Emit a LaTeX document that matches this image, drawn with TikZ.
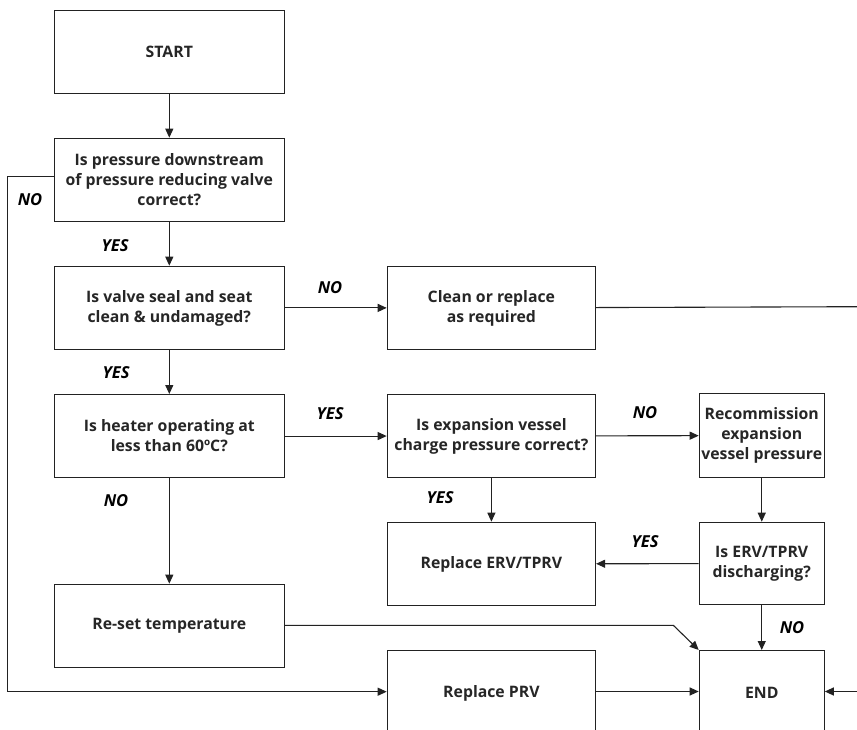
\documentclass[tikz,border=0pt]{standalone}
\usepackage{fontspec}
\setmainfont{Open Sans}
\usetikzlibrary{arrows.meta}
\definecolor{ink}{HTML}{222222}
\tikzset{
  x=1pt, y=-1pt,
  box/.style={draw=ink, line width=1.1pt, anchor=north west, align=center,
    inner sep=2pt, text=black!85, font=\bfseries\fontsize{15.8}{20}\selectfont},
  conn/.style={draw=ink, line width=1.1pt},
  arr/.style={conn, -{Triangle[length=9pt,width=8pt]}},
  lab/.style={font=\bfseries\itshape\fontsize{16.5}{18}\selectfont, inner sep=0pt}
}
\begin{document}
\begin{tikzpicture}
\useasboundingbox (0,0) rectangle (857,730);
\clip (0,0) rectangle (857,730);
% boxes
\node[box, minimum width=229.5pt, minimum height=82.7pt] (start) at (54,10) {START};
\node[box, minimum width=229.5pt, minimum height=83pt] (q1) at (54,137.7) {Is pressure downstream\\of pressure reducing valve\\correct?};
\node[box, minimum width=229.5pt, minimum height=83.3pt] (q2) at (54,265.7) {Is valve seal and seat\\clean \& undamaged?};
\node[box, minimum width=229.5pt, minimum height=83pt] (q3) at (54,394) {Is heater operating at\\less than 60ºC?};
\node[box, minimum width=229.5pt, minimum height=83.3pt] (reset) at (54,583.7) {Re-set temperature};
\node[box, minimum width=208.3pt, minimum height=83.3pt] (clean) at (386.7,265.7) {Clean or replace\\as required};
\node[box, minimum width=208.3pt, minimum height=83pt] (exp) at (386.7,394) {Is expansion vessel\\charge pressure correct?};
\node[box, minimum width=125pt, minimum height=83.4pt] (recomm) at (698.7,393.3) {Recommission\\expansion\\vessel pressure};
\node[box, minimum width=208.3pt, minimum height=83.3pt] (rerv) at (386.7,521.7) {Replace ERV/TPRV};
\node[box, minimum width=125pt, minimum height=82.6pt] (iserv) at (698.7,521.7) {Is ERV/TPRV\\discharging?};
\node[box, minimum width=208.3pt, minimum height=85pt] (prv) at (386.7,650) {Replace PRV};
\node[box, minimum width=125pt, minimum height=85pt] (end) at (698.7,650) {END};
% free ends
\coordinate (cleanout) at (857,306.7);
\coordinate (endin) at (857,691.5);
\coordinate (nol1) at (7.3,176.7);
\coordinate (nol2) at (7.3,691.7);
\coordinate (rbend) at (673.3,625.3);
% connectors
\draw[arr] (start) -- (q1);
\draw[arr] (q1) -- (q2);
\draw[arr] (q2) -- (q3);
\draw[arr] (q3) -- (reset);
\draw[arr] (q2) -- (clean);
\draw[conn] (clean) -- (cleanout);
\draw[arr] (q3) -- (exp);
\draw[arr] (exp) -- (recomm);
\draw[arr] (exp) -- (rerv);
\draw[arr] (recomm) -- (iserv);
\draw[arr] (iserv) -- (rerv);
\draw[arr] (iserv) -- (end);
\draw[arr] (q1.west |- nol1) -- (nol1) -- (nol2) -- (prv.west |- nol2);
\draw[arr] (reset.east |- rbend) -- (rbend) -- (end.north west);
\draw[arr] (prv.east |- endin) -- (end.west |- endin);
\draw[arr] (endin) -- (end.east |- endin);
% labels
\node[lab] (l1) at (30,200) {NO};
\node[lab] (l2) at (115,246) {YES};
\node[lab] (l3) at (116,372.5) {YES};
\node[lab] (l4) at (330,288) {NO};
\node[lab] (l5) at (330,414) {YES};
\node[lab] (l6) at (116,500.5) {NO};
\node[lab] (l7) at (645,413) {NO};
\node[lab] (l8) at (440,498) {YES};
\node[lab] (l9) at (645,542) {YES};
\node[lab] (l10) at (792,628) {NO};
\end{tikzpicture}
\end{document}
